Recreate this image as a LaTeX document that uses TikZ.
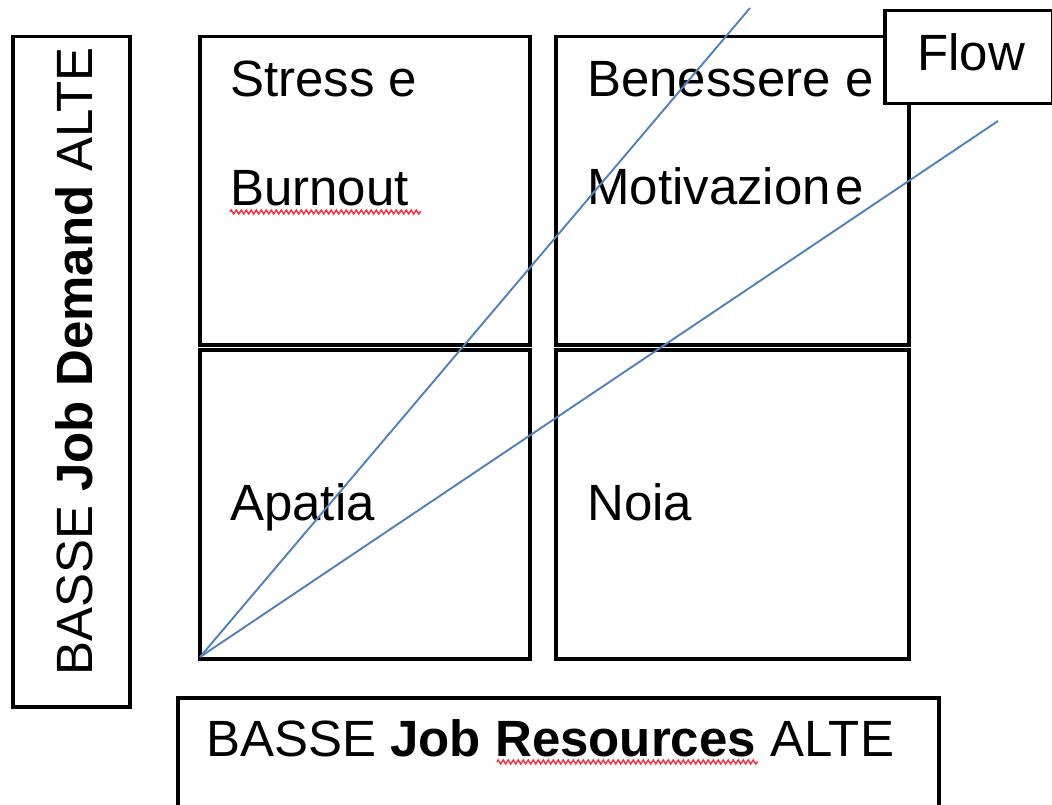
\documentclass[tikz,border=0pt]{standalone}
\usepackage{fontspec}
\setmainfont{Liberation Sans}
\usetikzlibrary{decorations.pathmorphing}
\definecolor{diagblue}{RGB}{79,129,189}
\definecolor{spellred}{RGB}{240,60,70}
\begin{document}
\begin{tikzpicture}[x=1pt,y=-1pt,
  box/.style={draw=black,line width=3.5pt,fill=white,inner sep=0pt,anchor=north west},
  lbl/.style={anchor=base west,inner sep=0pt,font=\fontsize{51}{60}\selectfont},
  diag/.style={draw=diagblue,line width=1.9pt},
  spell/.style={draw=spellred,line width=1.5pt,decorate,
    decoration={zigzag,segment length=5pt,amplitude=2pt}}]
\useasboundingbox (0,0) rectangle (1052,805);

% axis boxes
\node[box,minimum width=117,minimum height=670] (yaxis) at (11,35) {};
\node[box,minimum width=761,minimum height=140] (xaxis) at (176,696) {};

% the four quadrants
\node[box,minimum width=330,minimum height=308] (q1) at (198,35) {};
\node[box,minimum width=353,minimum height=308] (q2) at (554,35) {};
\node[box,minimum width=330,minimum height=309] (q3) at (198,348) {};
\node[box,minimum width=353,minimum height=309] (q4) at (554,348) {};

% quadrant labels
\node[lbl] (t1a) at (230,97) {Stress e};
\node[lbl] (t1b) at (230,206) {Burnout};
\node[lbl] (t2a) at (587,97) {Benessere e};
\node[lbl] (t2b) at (587,205) {Motivazion\hspace{5pt}e};
\node[lbl] (t3) at (230,520) {Apatia};
\node[lbl] (t4) at (587,520) {Noia};

% axis labels
\node[lbl,rotate=90] (ylab) at (92,676) {BASSE \textbf{Job Demand} ALTE};
\node[lbl] (xlab) at (206,756) {BASSE \textbf{Job Resources} ALTE};

% spell-check underlines
\coordinate (s1a) at (230,212);
\coordinate (s1b) at (421,212);
\draw[spell] (s1a) -- (s1b);
\coordinate (s2a) at (497,762);
\coordinate (s2b) at (758,762);
\draw[spell] (s2a) -- (s2b);

% flow channel
\coordinate (origin) at (200,657);
\coordinate (upper) at (750,8);
\coordinate (lower) at (998,121);
\draw[diag] (origin) -- (upper);
\draw[diag] (origin) -- (lower);

% flow label
\node[box,minimum width=168,minimum height=93] (flowbox) at (883,9) {};
\node[lbl] (flow) at (917,71) {Flow};
\end{tikzpicture}
\end{document}
